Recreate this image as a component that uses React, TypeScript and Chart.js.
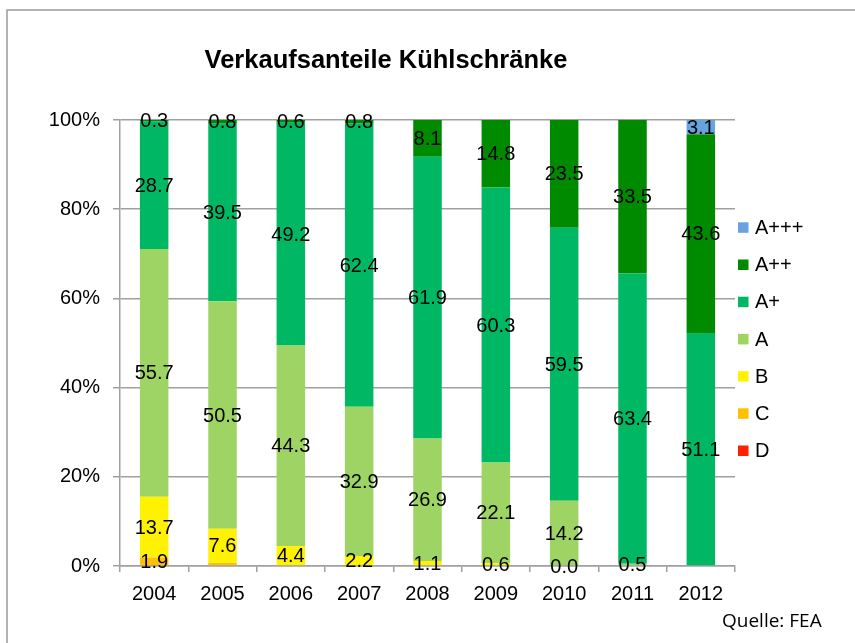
import React, { useEffect, useRef } from "react";
import { Chart, registerables } from "chart.js";

Chart.register(...registerables);

const titleText = "Verkaufsanteile Kühlschränke";
const sourceText = "Quelle: FEA";

const years = ["2004", "2005", "2006", "2007", "2008", "2009", "2010", "2011", "2012"];

// Series, bottom to top of each stack
const seriesD: (number | null)[] = [null, null, null, null, null, null, null, null, null];
const seriesC: (number | null)[] = [1.9, 0.7, null, null, null, null, null, null, null];
const seriesB: (number | null)[] = [13.7, 7.6, 4.4, 2.2, 1.1, 0.6, 0.0, null, null];
const seriesA: (number | null)[] = [55.7, 50.5, 44.3, 32.9, 26.9, 22.1, 14.2, 0.5, null];
const seriesAplus: (number | null)[] = [28.7, 39.5, 49.2, 62.4, 61.9, 60.3, 59.5, 63.4, 51.1];
const seriesA2plus: (number | null)[] = [0.3, 0.8, 0.6, 0.8, 8.1, 14.8, 23.5, 33.5, 43.6];
const seriesA3plus: (number | null)[] = [null, null, null, null, null, null, null, null, 3.1];

const seriesNames = ["D", "C", "B", "A", "A+", "A++", "A+++"];
const seriesColors = ["#FF2000", "#FFC000", "#FFF200", "#9ED463", "#00B864", "#008A00", "#66A3DF"];

// segments drawn without a value label in the original
const unlabeled: [string, string][] = [["C", "2005"]];

const yTicks = [0, 20, 40, 60, 80, 100];

const FONT = "'Liberation Sans', Arial, sans-serif";
const GRID = "#A0A0A0";

export default function App() {
  const canvasRef = useRef<HTMLCanvasElement | null>(null);

  useEffect(() => {
    const canvas = canvasRef.current;
    if (!canvas) return;
    const allSeries = [seriesD, seriesC, seriesB, seriesA, seriesAplus, seriesA2plus, seriesA3plus];
    const totals = years.map((_, i) =>
      allSeries.reduce((s, arr) => s + (arr[i] ?? 0), 0)
    );

    const datasets = allSeries.map((arr, k) => ({
      label: seriesNames[k],
      data: arr.map((v, i) => (v === null ? null : (v / totals[i]) * 100)),
      rawValues: arr,
      backgroundColor: seriesColors[k],
      borderWidth: 0,
      barPercentage: 0.417,
      categoryPercentage: 1.0,
    }));

    const framePlugin = {
      id: "frame",
      beforeDraw(chart: any) {
        const ctx = chart.ctx;
        ctx.save();
        ctx.fillStyle = "#ffffff";
        ctx.fillRect(0, 0, chart.width, chart.height);
        ctx.strokeStyle = "#9A9A9A";
        ctx.lineWidth = 1.5;
        ctx.strokeRect(7, 10, chart.width + 20, chart.height + 20);
        ctx.restore();
      },
      afterDraw(chart: any) {
        const ctx = chart.ctx;
        ctx.save();
        // title
        ctx.fillStyle = "#000";
        ctx.font = `bold 25.5px ${FONT}`;
        ctx.textAlign = "center";
        ctx.textBaseline = "alphabetic";
        ctx.fillText(titleText, 386, 67.5);
        // source
        ctx.font = `19px 'Open Sans', Lato, sans-serif`;
        ctx.textAlign = "left";
        ctx.fillText(sourceText, 722, 627);
        // legend (top series first)
        const area = chart.chartArea;
        const lx = area.right + 3;
        const startY = 227.5;
        const step = 37.2;
        const ds = chart.data.datasets;
        ctx.font = `20px ${FONT}`;
        ctx.textBaseline = "middle";
        for (let j = 0; j < ds.length; j++) {
          const d = ds[ds.length - 1 - j];
          const cy = startY + j * step;
          ctx.fillStyle = d.backgroundColor;
          ctx.fillRect(lx, cy - 5.2, 10.5, 10.5);
          ctx.fillStyle = "#000";
          ctx.fillText(d.label, lx + 17, cy + 1);
        }
        ctx.restore();
      },
      afterDatasetsDraw(chart: any) {
        const ctx = chart.ctx;
        ctx.save();
        ctx.font = `20px ${FONT}`;
        ctx.fillStyle = "#000";
        ctx.textAlign = "center";
        ctx.textBaseline = "middle";
        chart.data.datasets.forEach((d: any, di: number) => {
          const meta = chart.getDatasetMeta(di);
          meta.data.forEach((el: any, i: number) => {
            const raw = d.rawValues[i];
            if (raw === null || raw === undefined) return;
            if (unlabeled.some(([s, y]) => s === d.label && y === years[i])) return;
            const cy = (el.y + el.base) / 2;
            ctx.fillText(raw.toFixed(1), el.x, cy + 1);
          });
        });
        ctx.restore();
      },
    };

    const chart = new Chart(canvas, {
      type: "bar",
      data: { labels: years, datasets: datasets as any },
      options: {
        responsive: false,
        animation: false,
        events: [],
        layout: { padding: { top: 120, right: 120, bottom: 0, left: 0 } },
        plugins: {
          legend: { display: false },
          title: { display: false },
          tooltip: { enabled: false },
        },
        scales: {
          x: {
            stacked: true,
            grid: {
              display: true,
              drawOnChartArea: false,
              drawTicks: true,
              tickLength: 6,
              color: GRID,
              lineWidth: 1.5,
              offset: true,
            },
            border: { display: true, color: GRID, width: 1.5 },
            ticks: {
              color: "#000",
              font: { family: FONT, size: 20 },
              padding: 10,
              maxRotation: 0,
            },
            afterFit(scale: any) {
              scale.height = 77;
            },
          },
          y: {
            stacked: true,
            min: 0,
            max: 100,
            afterBuildTicks(scale: any) {
              scale.ticks = yTicks.map((v) => ({ value: v }));
            },
            grid: {
              display: true,
              drawTicks: true,
              tickLength: 7,
              color: GRID,
              lineWidth: 1.5,
            },
            border: { display: true, color: GRID, width: 1.5 },
            ticks: {
              color: "#000",
              font: { family: FONT, size: 20 },
              padding: 13,
              callback: (v: any) => `${v}%`,
            },
            afterFit(scale: any) {
              scale.width = 120;
            },
          },
        },
      },
      plugins: [framePlugin],
    });

    return () => chart.destroy();
  }, []);

  return (
    <div style={{ position: "fixed", left: 0, top: 0, width: 855, height: 643, background: "#fff" }}>
      <canvas ref={canvasRef} width={855} height={643} style={{ display: "block", width: 855, height: 643 }} />
    </div>
  );
}
